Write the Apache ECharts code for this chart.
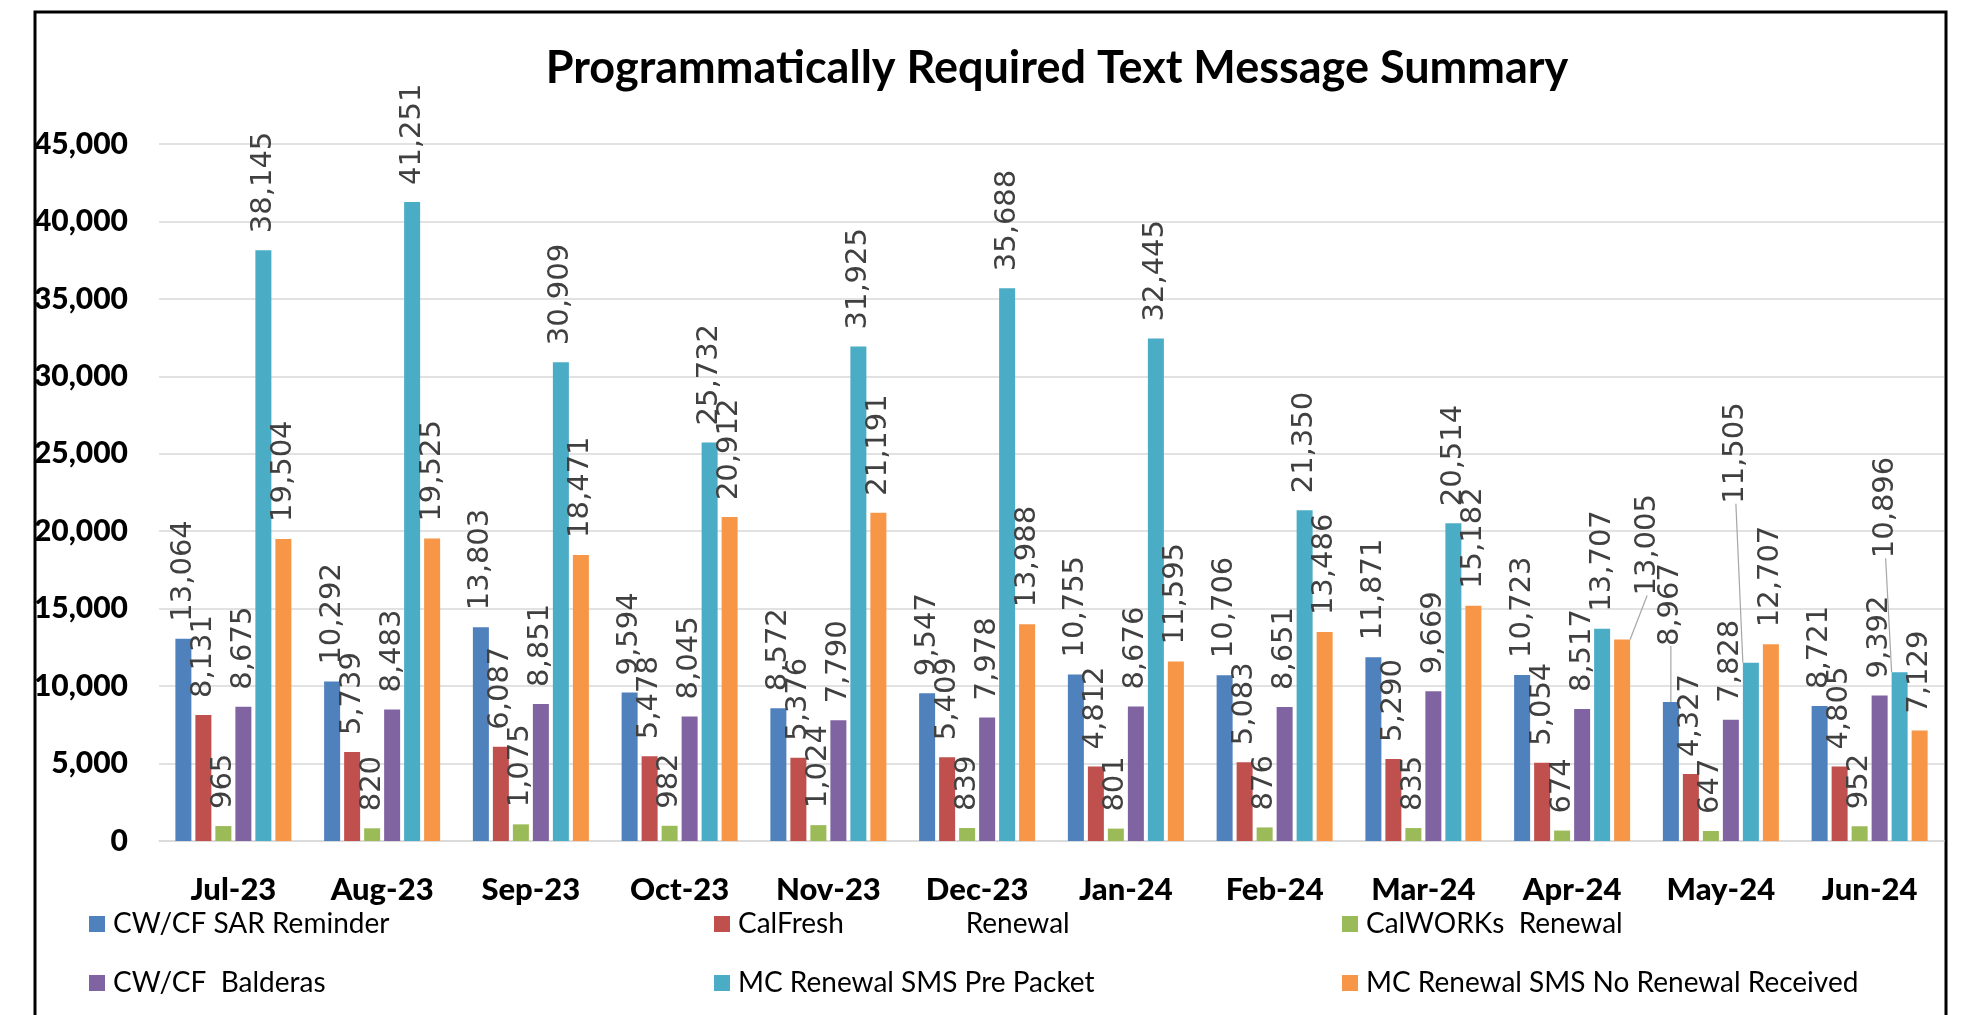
<!DOCTYPE html>
<html>
<head>
<meta charset="utf-8">
<title>Programmatically Required Text Message Summary</title>
<script src="https://cdn.jsdelivr.net/npm/echarts@6.0.0/dist/echarts.min.js"></script>
<style>
    html, body { margin: 0; padding: 0; background: #fff; }
    .chart { width: 1971px; height: 1015px; }
</style>
</head>
<body>
<div class="chart"></div>
<script>
// 数据
var months = ["Jul-23", "Aug-23", "Sep-23", "Oct-23", "Nov-23", "Dec-23",
    "Jan-24", "Feb-24", "Mar-24", "Apr-24", "May-24", "Jun-24"];
var yTicks = [0, 5000, 10000, 15000, 20000, 25000, 30000, 35000, 40000, 45000];

var seriesNames = [
    "CW/CF SAR Reminder",
    "CalFresh                 Renewal",
    "CalWORKs  Renewal",
    "CW/CF  Balderas",
    "MC Renewal SMS Pre Packet",
    "MC Renewal SMS No Renewal Received"
];
var sarReminder = [13064, 10292, 13803, 9594, 8572, 9547, 10755, 10706, 11871, 10723, 8967, 8721];
var calFreshRenewal = [8131, 5739, 6087, 5478, 5376, 5409, 4812, 5083, 5290, 5054, 4327, 4805];
var calWorksRenewal = [965, 820, 1075, 982, 1024, 839, 801, 876, 835, 674, 647, 952];
var balderas = [8675, 8483, 8851, 8045, 7790, 7978, 8676, 8651, 9669, 8517, 7828, 9392];
var mcPrePacket = [38145, 41251, 30909, 25732, 31925, 35688, 32445, 21350, 20514, 13707, 11505, 10896];
var mcNoRenewal = [19504, 19525, 18471, 20912, 21191, 13988, 11595, 13486, 15182, 13005, 12707, 7129];

(function() {
    var myChart = echarts.init(document.querySelector(".chart"));
    var colors = ["#4f81bd", "#c0504d", "#9bbb59", "#8064a2", "#4bacc6", "#f79646"];
    var values = [sarReminder, calFreshRenewal, calWorksRenewal, balderas, mcPrePacket, mcNoRenewal];

    // 手动挪开的标签 (系列-索引): 屏幕上的 [右移, 下移]，带引导线
    var moved = {
        "5-9": [25, -27],
        "0-10": [0, -39],
        "4-10": [-15, -142],
        "4-11": [-14, -97]
    };

    function commas(v) {
        return String(v).replace(/\B(?=(\d{3})+(?!\d))/g, ",");
    }

    var series = values.map(function(arr, si) {
        return {
            name: seriesNames[si],
            type: "bar",
            barWidth: 16,
            barGap: "25%",
            data: arr.map(function(v, di) {
                if (moved[si + "-" + di]) {
                    return { value: v, labelLine: { show: true } };
                }
                return v;
            }),
            label: {
                show: true,
                position: "top",
                rotate: 90,
                align: "left",
                verticalAlign: "middle",
                distance: 17,
                fontFamily: "DejaVu Sans",
                fontSize: 29,
                color: "#404040",
                formatter: function(p) {
                    return commas(p.value);
                }
            },
            labelLine: {
                show: false,
                lineStyle: { color: "#a6a6a6", width: 1.2 }
            },
            // 标签旋转了90度，dx/dy 是标签自身坐标系
            labelLayout: function(p) {
                var m = moved[p.seriesIndex + "-" + p.dataIndex];
                return m ? { dx: -m[1], dy: m[0] } : null;
            }
        };
    });

    var legendBase = {
        orient: "vertical",
        itemGap: 31,
        itemWidth: 16,
        itemHeight: 16,
        icon: "rect",
        selectedMode: false,
        textStyle: {
            fontFamily: "Lato",
            fontSize: 28,
            color: "#000",
            padding: [0, 0, 0, 3]
        }
    };

    var option = {
        animation: false,
        color: colors,
        title: {
            text: "Programmatically Required Text Message Summary",
            left: 1052,
            top: 41,
            textAlign: "center",
            textStyle: {
                fontFamily: "Lato",
                fontWeight: "bold",
                fontSize: 45,
                color: "#000"
            }
        },
        legend: [
            Object.assign({}, legendBase, { left: 84, top: 905, data: [seriesNames[0], seriesNames[3]] }),
            Object.assign({}, legendBase, { left: 709, top: 905, data: [seriesNames[1], seriesNames[4]] }),
            Object.assign({}, legendBase, { left: 1337, top: 905, data: [seriesNames[2], seriesNames[5]] })
        ],
        grid: {
            left: 159,
            right: 27,
            top: 144,
            bottom: 174
        },
        xAxis: {
            type: "category",
            data: months,
            axisTick: { show: false },
            axisLine: { lineStyle: { color: "#d9d9d9", width: 1.5 } },
            axisLabel: {
                margin: 33,
                fontFamily: "Lato",
                fontWeight: 900,
                fontSize: 31,
                color: "#000"
            }
        },
        yAxis: {
            type: "value",
            min: yTicks[0],
            max: yTicks[yTicks.length - 1],
            interval: yTicks[1] - yTicks[0],
            axisTick: { show: false },
            axisLine: { show: false },
            splitLine: { lineStyle: { color: "#d9d9d9", width: 1.5 } },
            axisLabel: {
                margin: 31,
                fontFamily: "Lato",
                fontWeight: 900,
                fontSize: 30,
                color: "#000",
                formatter: function(v) {
                    return commas(v);
                }
            }
        },
        // 外框
        graphic: [{
            type: "rect",
            silent: true,
            shape: { x: 35, y: 12, width: 1911, height: 1040 },
            style: { fill: "none", stroke: "#000", lineWidth: 3 }
        }],
        series: series
    };

    myChart.setOption(option);
    window.addEventListener("resize", function() {
        myChart.resize();
    });
})();
</script>
</body>
</html>
